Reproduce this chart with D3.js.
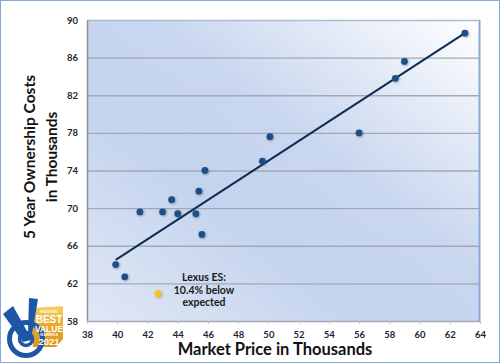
<!DOCTYPE html>
<html lang="en">
<head>
<meta charset="UTF-8">
<title>Ownership Costs vs Market Price</title>
<script src="https://d3js.org/d3.v7.min.js"></script>
<style>
  html, body { margin: 0; padding: 0; background: #fff; }
  svg { display: block; font-family: Lato, "Open Sans", sans-serif; }
</style>
</head>
<body>
<div id="chart"></div>
<script>
// market price (thousands) and 5 year ownership cost (thousands) per vehicle
const prices = [39.9, 40.5, 41.5, 43.0, 43.6, 44.0, 45.2, 45.4, 45.6, 45.8, 49.6, 50.1, 56.0, 58.4, 59.0, 63.0];
const costs  = [64.0, 62.7, 69.6, 69.6, 70.9, 69.4, 69.4, 71.8, 67.2, 74.0, 75.0, 77.6, 78.0, 83.8, 85.6, 88.6];
const lexusPoint = [42.7, 60.9];
const trendX = [39.9, 63.0];
const trendY = [64.5, 88.6];
const xTicks = [38, 40, 42, 44, 46, 48, 50, 52, 54, 56, 58, 60, 62, 64];
const yTicks = [58, 62, 66, 70, 74, 78, 82, 86, 90];
const noteLines = ["Lexus ES:", "10.4% below", "expected"];

const width = 500, height = 363;
const plot = { left: 87, right: 480, top: 20, bottom: 321 };

const svg = d3.select("#chart").append("svg")
    .attr("width", width)
    .attr("height", height);

const defs = svg.append("defs");
const grad = defs.append("linearGradient")
    .attr("id", "plotBg")
    .attr("x1", "1").attr("y1", "0")
    .attr("x2", "0").attr("y2", "1");
grad.append("stop").attr("offset", "0").attr("stop-color", "#ffffff");
grad.append("stop").attr("offset", "0.42").attr("stop-color", "#c8d6ef");
grad.append("stop").attr("offset", "0.65").attr("stop-color", "#c5d4ee");
grad.append("stop").attr("offset", "1").attr("stop-color", "#e0e8f5");

const gold = defs.append("linearGradient")
    .attr("id", "goldBg")
    .attr("x1", "0").attr("y1", "0")
    .attr("x2", "0").attr("y2", "1");
gold.append("stop").attr("offset", "0").attr("stop-color", "#f6cf62");
gold.append("stop").attr("offset", "0.5").attr("stop-color", "#e7a82c");
gold.append("stop").attr("offset", "1").attr("stop-color", "#d99a22");

const shadow = defs.append("filter").attr("id", "dotShadow")
    .attr("x", "-50%").attr("y", "-50%").attr("width", "200%").attr("height", "200%");
shadow.append("feDropShadow")
    .attr("dx", 0.8).attr("dy", 0.8).attr("stdDeviation", 0.8)
    .attr("flood-color", "#000").attr("flood-opacity", 0.35);

// outer frame
svg.append("rect")
    .attr("x", 0.5).attr("y", 0.5)
    .attr("width", width - 1).attr("height", height - 1)
    .attr("fill", "#fff")
    .attr("stroke", "#86a8d6");

const x = d3.scaleLinear().domain([38, 64]).range([plot.left, plot.right]);
const y = d3.scaleLinear().domain([58, 90]).range([plot.bottom, plot.top]);

// plot area
svg.append("rect")
    .attr("x", plot.left).attr("y", plot.top)
    .attr("width", plot.right - plot.left)
    .attr("height", plot.bottom - plot.top)
    .attr("fill", "url(#plotBg)");

// gridlines
svg.append("g")
    .selectAll("line")
    .data(yTicks.slice(1, -1))
    .join("line")
    .attr("x1", plot.left).attr("x2", plot.right)
    .attr("y1", d => y(d) + 0.5).attr("y2", d => y(d) + 0.5)
    .attr("stroke", "#a3a8b3")
    .attr("stroke-width", 1.3);

// plot border
svg.append("line")
    .attr("x1", plot.left).attr("x2", plot.right)
    .attr("y1", plot.top + 0.5).attr("y2", plot.top + 0.5)
    .attr("stroke", "#a9bcd8").attr("stroke-width", 1.5);
svg.append("line")
    .attr("x1", plot.right - 0.5).attr("x2", plot.right - 0.5)
    .attr("y1", plot.top).attr("y2", plot.bottom)
    .attr("stroke", "#8aa8d8").attr("stroke-width", 2);
svg.append("line")
    .attr("x1", plot.left + 0.5).attr("x2", plot.left + 0.5)
    .attr("y1", plot.top).attr("y2", plot.bottom)
    .attr("stroke", "#8c8f96").attr("stroke-width", 1.5);
svg.append("line")
    .attr("x1", plot.left).attr("x2", plot.right)
    .attr("y1", plot.bottom + 0.5).attr("y2", plot.bottom + 0.5)
    .attr("stroke", "#a3a8b3").attr("stroke-width", 1.3);

// axes
const xAxis = svg.append("g")
    .attr("transform", `translate(0,${plot.bottom})`)
    .call(d3.axisBottom(x).tickValues(xTicks).tickSize(3).tickPadding(7));
const yAxis = svg.append("g")
    .attr("transform", `translate(${plot.left},0)`)
    .call(d3.axisLeft(y).tickValues(yTicks).tickSize(0).tickPadding(9));
[xAxis, yAxis].forEach(g => {
    g.select(".domain").remove();
    g.selectAll(".tick line").attr("stroke", "#c0c4cc");
    g.selectAll(".tick text")
        .attr("fill", "#1a1f33")
        .attr("font-size", 9.5)
        .attr("font-weight", "bold")
        .attr("font-family", "Lato, sans-serif");
});

// trend line
svg.append("line")
    .attr("x1", x(trendX[0])).attr("y1", y(trendY[0]))
    .attr("x2", x(trendX[1])).attr("y2", y(trendY[1]))
    .attr("stroke", "#0f2c52")
    .attr("stroke-width", 2);

// points
svg.append("g")
    .selectAll("circle")
    .data(prices.map((p, i) => [p, costs[i]]))
    .join("circle")
    .attr("cx", d => x(d[0]))
    .attr("cy", d => y(d[1]))
    .attr("r", 3.4)
    .attr("fill", "#1f4f8a")
    .attr("filter", "url(#dotShadow)");

svg.append("circle")
    .attr("cx", x(lexusPoint[0]))
    .attr("cy", y(lexusPoint[1]))
    .attr("r", 3.4)
    .attr("fill", "#fcbf1e")
    .attr("filter", "url(#dotShadow)");

// annotation
svg.append("text")
    .attr("text-anchor", "middle")
    .attr("font-size", 10.5)
    .attr("font-weight", "bold")
    .attr("fill", "#1a1a1a")
    .selectAll("tspan")
    .data(noteLines)
    .join("tspan")
    .attr("x", 204)
    .attr("y", (d, i) => 281 + i * 12.5)
    .text(d => d);

// axis titles
svg.append("text")
    .attr("x", 275)
    .attr("y", 355)
    .attr("text-anchor", "middle")
    .attr("font-size", 16.5)
    .attr("font-weight", "bold")
    .attr("fill", "#111")
    .text("Market Price in Thousands");

const yTitle = svg.append("text")
    .attr("transform", "translate(0,157) rotate(-90)")
    .attr("text-anchor", "middle")
    .attr("font-size", 15.5)
    .attr("font-weight", "bold")
    .attr("fill", "#111");
yTitle.append("tspan").attr("x", 0).attr("y", 35).text("5 Year Ownership Costs");
yTitle.append("tspan").attr("x", 0).attr("y", 57).text("in Thousands");

// badge in the lower left corner
const badge = svg.append("g");
badge.append("path")
    .attr("d", "M31,308 L63,306 L63,339 L56,347 L33,347 Z")
    .attr("fill", "url(#goldBg)");
badge.append("circle")
    .attr("cx", 26).attr("cy", 339).attr("r", 16.5)
    .attr("fill", "none").attr("stroke", "#1d56a6").attr("stroke-width", 5);
badge.append("circle")
    .attr("cx", 26).attr("cy", 339).attr("r", 6.5)
    .attr("fill", "none").attr("stroke", "#1d56a6").attr("stroke-width", 3.5);
badge.append("path")
    .attr("d", "M3,314 L13,306 L28,333 L29,298 L38,299 L31,340 L23,342 Z")
    .attr("fill", "#1d56a6");
const badgeText = badge.append("g")
    .attr("fill", "#fff")
    .attr("font-weight", "bold")
    .attr("text-anchor", "middle")
    .attr("font-family", "'Liberation Sans', Arial, sans-serif");
badgeText.append("text").attr("x", 49).attr("y", 313).attr("font-size", 3).text("VINCENTRIC");
badgeText.append("text").attr("x", 49).attr("y", 323).attr("font-size", 10).text("BEST");
badgeText.append("text").attr("x", 49).attr("y", 332).attr("font-size", 8.5).text("VALUE");
badgeText.append("text").attr("x", 49).attr("y", 335.5).attr("font-size", 3).text("IN AMERICA");
badgeText.append("text").attr("x", 49).attr("y", 344.5).attr("font-size", 9.5).text("2021");
</script>
</body>
</html>
